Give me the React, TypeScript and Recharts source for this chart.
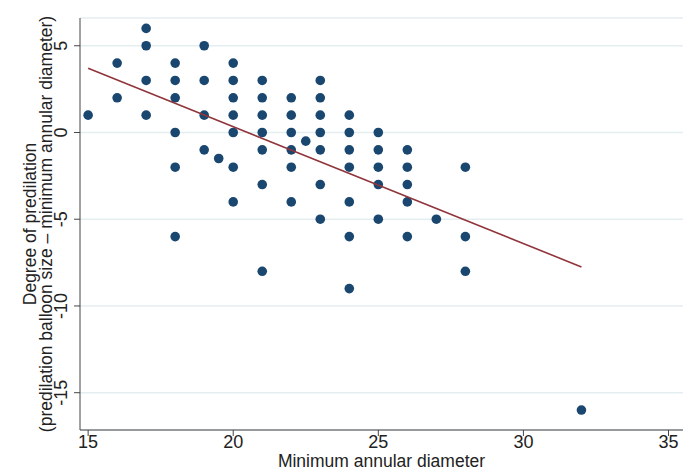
import React from "react";
import { ScatterChart, Scatter, XAxis, YAxis, CartesianGrid } from "recharts";

// Minimum annular diameter (x) and degree of predilation (y), read column by column
const diameters = [
  15,
  16, 16,
  17, 17, 17, 17,
  18, 18, 18, 18, 18, 18,
  19, 19, 19, 19,
  19.5,
  20, 20, 20, 20, 20, 20, 20,
  21, 21, 21, 21, 21, 21, 21,
  22, 22, 22, 22, 22, 22,
  22.5,
  23, 23, 23, 23, 23, 23, 23,
  24, 24, 24, 24, 24, 24, 24,
  25, 25, 25, 25, 25,
  26, 26, 26, 26, 26,
  27,
  28, 28, 28,
  32,
];
const predilation = [
  1,
  4, 2,
  6, 5, 3, 1,
  4, 3, 2, 0, -2, -6,
  5, 3, 1, -1,
  -1.5,
  4, 3, 2, 1, 0, -2, -4,
  3, 2, 1, 0, -1, -3, -8,
  2, 1, 0, -1, -2, -4,
  -0.5,
  3, 2, 1, 0, -1, -3, -5,
  1, 0, -1, -2, -4, -6, -9,
  0, -1, -2, -3, -5,
  -1, -2, -3, -4, -6,
  -5,
  -2, -6, -8,
  -16,
];

// Linear fit line endpoints
const fitX = [15, 32];
const fitY = [3.7, -7.75];

const xTicks = [15, 20, 25, 30, 35];
const yTicks = [-15, -10, -5, 0, 5];

const points = diameters.map((x, i) => ({ x, y: predilation[i] }));
const fitData = fitX.map((x, i) => ({ x, y: fitY[i] }));

const FONT = "Liberation Sans, Arial, Helvetica, sans-serif";
const DOT = "#1a476f";
const FIT = "#90353b";
const GRID = "#e4edf0";
const AXIS = "#444444";

const Dot = (props: any) => {
  const { cx, cy } = props;
  if (cx == null || cy == null) return <g />;
  return <circle cx={cx} cy={cy} r={4.8} fill={DOT} />;
};

const XTick = (props: any) => {
  const { x, y, payload } = props;
  return (
    <text x={x} y={y + 12} textAnchor="middle" fontSize={18} fontFamily={FONT} fill="#222">
      {payload.value}
    </text>
  );
};

const YTick = (props: any) => {
  const { x, y, payload } = props;
  return (
    <text
      transform={`translate(${x - 5},${y}) rotate(-90)`}
      textAnchor="middle"
      fontSize={18}
      fontFamily={FONT}
      fill="#222"
    >
      {payload.value}
    </text>
  );
};

const YTitle = (props: any) => {
  const vb = props.viewBox || { y: 18, height: 412 };
  const cy = vb.y + vb.height / 2;
  return (
    <g fontFamily={FONT} fontSize={17.5} fill="#222">
      <text transform={`translate(36,${cy}) rotate(-90)`} textAnchor="middle">
        Degree of predilation
      </text>
      <text transform={`translate(52,${cy}) rotate(-90)`} textAnchor="middle">
        (predilation balloon size – minimum annular diameter)
      </text>
    </g>
  );
};

const XTitle = (props: any) => {
  const vb = props.viewBox || { x: 80, width: 603 };
  const cx = vb.x + vb.width / 2;
  return (
    <text x={cx} y={467} textAnchor="middle" fontFamily={FONT} fontSize={17.5} fill="#222">
      Minimum annular diameter
    </text>
  );
};

export default function App() {
  return (
    <div style={{ position: "absolute", left: 0, top: 0, width: 686, height: 470, background: "#fff" }}>
      <ScatterChart width={686} height={470} margin={{ top: 18, right: 3, left: 0, bottom: 0 }}>
        <CartesianGrid horizontal vertical={false} stroke={GRID} strokeWidth={1.5} />
        <XAxis
          type="number"
          dataKey="x"
          domain={[14.72, 35.5]}
          ticks={xTicks}
          allowDataOverflow
          height={40}
          tickSize={6}
          tickMargin={0}
          stroke={AXIS}
          tick={<XTick />}
          label={{ content: XTitle }}
        />
        <YAxis
          type="number"
          dataKey="y"
          domain={[-17.15, 6.6]}
          ticks={yTicks}
          allowDataOverflow
          width={80}
          tickSize={6}
          tickMargin={2}
          stroke={AXIS}
          tick={<YTick />}
          label={{ content: YTitle }}
        />
        <Scatter data={points} shape={Dot} isAnimationActive={false} />
        <Scatter
          data={fitData}
          line={{ stroke: FIT, strokeWidth: 1.6 }}
          shape={() => <g />}
          isAnimationActive={false}
        />
      </ScatterChart>
    </div>
  );
}
